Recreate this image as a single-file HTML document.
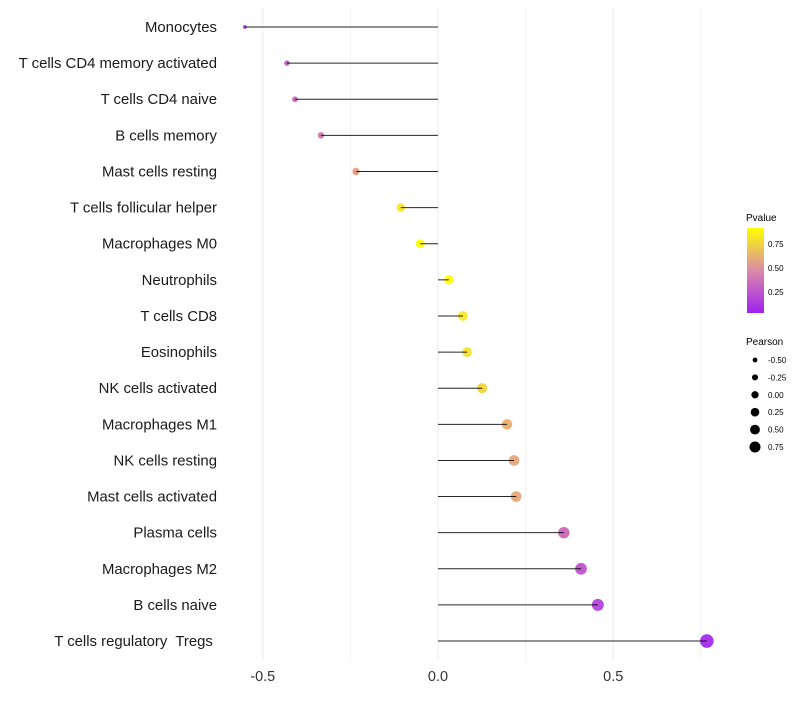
<!DOCTYPE html>
<html><head><meta charset="utf-8"><style>
body{margin:0;background:#fff;font-family:"Liberation Sans",sans-serif}
svg text{font-family:"Liberation Sans",sans-serif;white-space:pre}
</style></head><body>
<svg id="chart" width="800" height="700" xmlns="http://www.w3.org/2000/svg">
<defs><linearGradient id="pg" x1="0" y1="1" x2="0" y2="0">
<stop offset="0" stop-color="#a020f0"/><stop offset="0.5" stop-color="#d98ba8"/><stop offset="1" stop-color="#ffff00"/></linearGradient></defs>
<g id="grid"></g><g id="marks"></g><g id="stems"></g><g id="labels"></g>
<g>
<text x="746" y="221" font-size="10">Pvalue</text>
<rect x="747" y="228" width="17" height="85" fill="url(#pg)"/>
<text x="768" y="247" font-size="8">0.75</text>
<text x="768" y="271" font-size="8">0.50</text>
<text x="768" y="295" font-size="8">0.25</text>
</g>
<g id="sizeleg">
<text x="746" y="345" font-size="10">Pearson</text>
</g>
</svg>
<script>
const categories=["Monocytes","T cells CD4 memory activated","T cells CD4 naive","B cells memory","Mast cells resting","T cells follicular helper","Macrophages M0","Neutrophils","T cells CD8","Eosinophils","NK cells activated","Macrophages M1","NK cells resting","Mast cells activated","Plasma cells","Macrophages M2","B cells naive","T cells regulatory  Tregs "];
const pearson=[-0.551,-0.431,-0.408,-0.334,-0.234,-0.106,-0.051,0.031,0.071,0.083,0.126,0.197,0.217,0.223,0.359,0.408,0.456,0.767];
const pvalue=[0.05,0.25,0.3,0.38,0.55,0.82,0.93,0.93,0.83,0.8,0.75,0.62,0.58,0.58,0.32,0.22,0.15,0.02];
const xTicks=[-0.5,0,0.5];
const xTickLabels=["-0.5","0.0","0.5"];
const xGrid=[-0.5,-0.25,0,0.25,0.5,0.75];
const sizeLegend=[-0.5,-0.25,0,0.25,0.5,0.75];
const sizeLegendLabels=["-0.50","-0.25","0.00","0.25","0.50","0.75"];
const NS="http://www.w3.org/2000/svg";
const x=v=>438+v*350.5;
const y=i=>27+i*36.12;
const r=v=>{const t=(v+0.551)/1.318;return Math.sqrt(3.5+(46-3.5)*t);};
const rl=v=>2.4+(v+0.5)*2.5;
function col(p){const t=Math.max(0,Math.min(1,(p-0.03)/(0.92-0.03)));
const a=[160,32,240],m=[222,132,150],b=[255,255,0];let c;
if(t<0.5){const u=t/0.5;c=a.map((v,k)=>v+(m[k]-v)*u);}else{const u=(t-0.5)/0.5;c=m.map((v,k)=>v+(b[k]-v)*u);}
return `rgb(${c.map(Math.round).join(',')})`;}
function mk(tag,at,parent){const e=document.createElementNS(NS,tag);for(const k in at)e.setAttribute(k,at[k]);parent.appendChild(e);return e;}
const grid=document.getElementById('grid'),marks=document.getElementById('marks'),stems=document.getElementById('stems'),labels=document.getElementById('labels');
xGrid.forEach(v=>{const l=mk('line',{x1:x(v),x2:x(v),y1:8,y2:660,stroke:'#ebebeb','stroke-width':Number.isInteger(v*2)?1:0.6},grid);

});
xTicks.forEach((v,i)=>{const t=mk('text',{x:x(v),y:681,'font-size':14.5,'text-anchor':'middle',fill:'#333'},labels);t.textContent=xTickLabels[i];

});
categories.forEach((c,i)=>{
const t=mk('text',{x:217,y:y(i)+5,'font-size':14.9,'text-anchor':'end',fill:'#1a1a1a'},labels);t.textContent=c;


const d=mk('circle',{cx:x(pearson[i]),cy:y(i),r:r(pearson[i]),fill:col(pvalue[i]),'fill-opacity':0.9},marks);


const l=mk('line',{x1:x(0),x2:x(pearson[i]),y1:y(i),y2:y(i),stroke:'#000','stroke-width':1,'stroke-opacity':0.85},stems);


});
const sl=document.getElementById('sizeleg');
sizeLegend.forEach((v,i)=>{const cy=360+i*17.4;
const c=mk('circle',{cx:755,cy:cy,r:rl(v),fill:'#000'},sl);


const t=mk('text',{x:768,y:cy+3,'font-size':8},sl);t.textContent=sizeLegendLabels[i];

});
</script>
</body></html>
